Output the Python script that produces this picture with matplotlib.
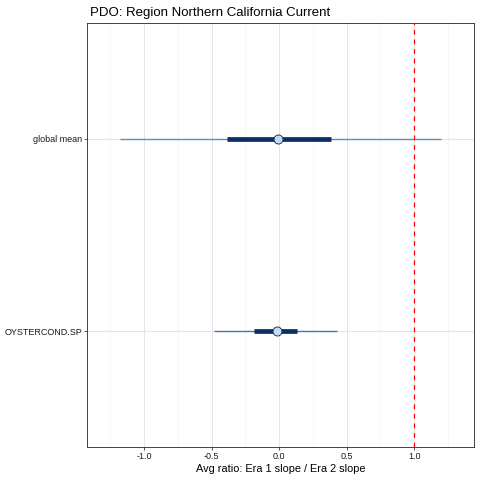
import matplotlib
matplotlib.use("Agg")
import matplotlib.pyplot as plt
from matplotlib.ticker import MultipleLocator

plt.rcParams['font.family'] = ['Liberation Sans', 'DejaVu Sans']

labels = ["OYSTERCOND.SP", "global mean"]
point = [-0.019, -0.012]
outer_lo = [-0.484, -1.18]
outer_hi = [0.425, 1.196]
inner_lo = [-0.187, -0.387]
inner_hi = [0.133, 0.381]
thin_colors = ["#3f7aa8", "#5f8fb8"]

fig = plt.figure(figsize=(480/72, 480/72), dpi=72)
ax = fig.add_axes([87/480, 33/480, (474-87)/480, (447-23)/480])

ypos = list(range(1, len(labels)+1))
for i, y in enumerate(ypos):
    ax.plot([outer_lo[i], outer_hi[i]], [y, y], color=thin_colors[i], lw=1.4,
            solid_capstyle='butt', zorder=3)
    ax.plot([inner_lo[i], inner_hi[i]], [y, y], color="#0b2d5f", lw=4.7,
            solid_capstyle='butt', zorder=4)
    ax.plot([point[i]], [y], marker='o', ms=9, mfc="#c6dbef", mec="#0b2d5f",
            mew=0.9, zorder=5, ls='none')

ax.axvline(1.0, color="red", ls=(0, (4, 4)), lw=1.2, zorder=6)

ax.set_xlim(-1.422, 1.442)
ax.set_ylim(0.4, 2.6)
ax.set_yticks(ypos)
ax.set_yticklabels(labels)
ax.xaxis.set_minor_locator(MultipleLocator(0.25))
ax.set_xticks([-1.0, -0.5, 0.0, 0.5, 1.0])
ax.set_xticklabels(["-1.0", "-0.5", "0.0", "0.5", "1.0"])

ax.grid(True, which='major', color="#e3e3e3", lw=0.9, zorder=0)
ax.grid(True, which='minor', axis='x', color="#efefef", lw=0.5, zorder=0)
ax.set_axisbelow(True)
for s in ax.spines.values():
    s.set_color("#333333")
    s.set_linewidth(0.9)
ax.tick_params(axis='both', which='major', length=3, width=0.8, color="#333333",
               labelsize=9, labelcolor="#1a1a1a", pad=2)
ax.tick_params(axis='x', which='minor', length=0)

ax.set_xlabel("Avg ratio: Era 1 slope / Era 2 slope", fontsize=11, color="black", labelpad=3)
fig.text(90/480, 1 - 16/480, "PDO: Region Northern California Current", fontsize=13.2,
         color="black", ha='left', va='baseline')

fig.savefig("out.png", dpi=72, facecolor="white")
